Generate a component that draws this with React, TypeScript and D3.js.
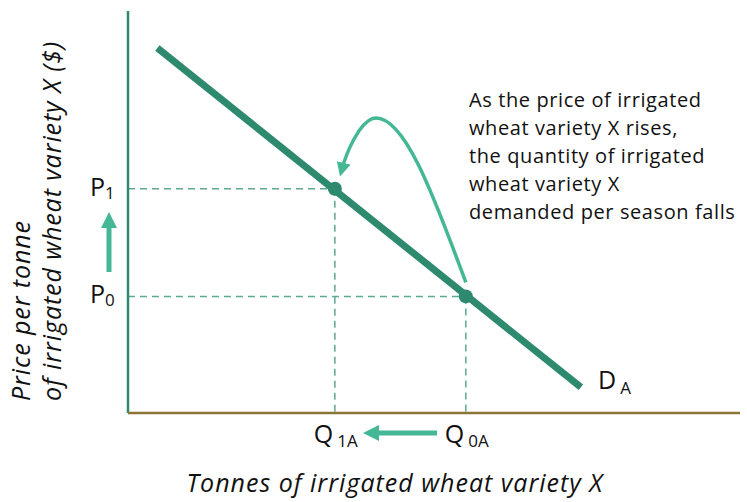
import React from 'react'
import * as d3 from 'd3'

// demand curve end points (quantity, price) in chart units 0..100
const demandLine = [
  { q: 4.8, p: 90.8 },
  { q: 74, p: 6.4 },
]

// points on the curve
const points = [
  { name: 'A1', q: 33.8, p: 55.8 },
  { name: 'A0', q: 55.2, p: 29 },
]

const priceLabels = [
  { main: 'P', sub: '1', p: 55.8 },
  { main: 'P', sub: '0', p: 29 },
]

const qtyLabels = [
  { main: 'Q', sub: '1A', q: 33.8 },
  { main: 'Q', sub: '0A', q: 55.2 },
]

const noteLines = [
  'As the price of irrigated',
  'wheat variety X rises,',
  'the quantity of irrigated',
  'wheat variety X',
  'demanded per season falls',
]

const yTitle = ['Price per tonne', 'of irrigated wheat variety X ($)']
const xTitle = 'Tonnes of irrigated wheat variety X'

const W = 747
const H = 502
const font = "'Open Sans', 'Noto Sans', sans-serif"

const dark = '#2e8a6f'
const light = '#44b795'
const dash = '#5ea893'

export default function App() {
  const x = d3.scaleLinear().domain([0, 100]).range([128, 740])
  const y = d3.scaleLinear().domain([0, 100]).range([413, 11])

  const line = d3
    .line<{ q: number; p: number }>()
    .x(d => x(d.q))
    .y(d => y(d.p))

  const [a1, a0] = points
  // curved arrow from A0 up and over to A1
  const sx = x(a0.q)
  const sy = y(a0.p)
  const curve = d3.path()
  curve.moveTo(sx, sy - 14)
  curve.bezierCurveTo(sx - 30, sy - 95, sx - 62, sy - 185, sx - 93, sy - 178)
  curve.bezierCurveTo(x(a1.q) + 25, y(a1.p) - 66, x(a1.q) + 12, y(a1.p) - 38, x(a1.q) + 7, y(a1.p) - 19)

  return (
    <svg width={W} height={H} style={{ position: 'absolute', left: 0, top: 0 }}>
      <defs>
        <marker id="head" viewBox="0 0 10 10" refX="5" refY="5" markerWidth="4" markerHeight="4" orient="auto-start-reverse">
          <path d="M0,0 L10,5 L0,10 z" fill={light} />
        </marker>
        <marker id="head2" viewBox="0 0 10 10" refX="5" refY="5" markerWidth="3.2" markerHeight="3.2" orient="auto-start-reverse">
          <path d="M0,0 L10,5 L0,10 z" fill={light} />
        </marker>
      </defs>

      {/* dashed guides */}
      {points.map(d => (
        <g key={d.name} stroke={dash} strokeWidth={1.5} strokeDasharray="7,5" fill="none">
          <line x1={x(0)} x2={x(d.q)} y1={y(d.p)} y2={y(d.p)} />
          <line x1={x(d.q)} x2={x(d.q)} y1={y(d.p)} y2={y(0)} />
        </g>
      ))}

      {/* axes */}
      <line x1={x(0)} x2={x(0)} y1={y(100)} y2={y(0)} stroke={dark} strokeWidth={2.5} />
      <line x1={x(0)} x2={x(100)} y1={y(0)} y2={y(0)} stroke="#8a7537" strokeWidth={2.5} />

      {/* demand */}
      <path d={line(demandLine) ?? ''} stroke={dark} strokeWidth={7} fill="none" />
      {points.map(d => (
        <circle key={d.name} cx={x(d.q)} cy={y(d.p)} r={7} fill={dark} />
      ))}

      <path d={curve.toString()} stroke={light} strokeWidth={3.5} fill="none" markerEnd="url(#head)" />

      {/* price labels */}
      {priceLabels.map(d => (
        <text key={d.sub} x={90} y={y(d.p) + 7} fontFamily={font} fontSize={25} fill="#111">
          {d.main}
          <tspan fontSize={17} dy={3}>{d.sub}</tspan>
        </text>
      ))}
      <line x1={109} x2={109} y1={272} y2={220} stroke={light} strokeWidth={5} markerEnd="url(#head2)" />

      {/* quantity labels */}
      {qtyLabels.map(d => (
        <text key={d.sub} x={x(d.q) - 21} y={443} fontFamily={font} fontSize={25} fill="#111">
          {d.main}
          <tspan fontSize={17} dx={4} dy={4}>{d.sub}</tspan>
        </text>
      ))}
      <line x1={437} x2={371} y1={433} y2={433} stroke={light} strokeWidth={5} markerEnd="url(#head2)" />

      <text x={598} y={389} fontFamily={font} fontSize={25} fill="#111">
        D<tspan fontSize={17} dx={4} dy={5}>A</tspan>
      </text>

      {/* note */}
      <text fontFamily={font} fontSize={20} letterSpacing={0.6} fill="#111">
        {noteLines.map((t, i) => (
          <tspan key={i} x={469} y={107 + i * 28}>{t}</tspan>
        ))}
      </text>

      {/* axis titles */}
      <text x={395} y={492} textAnchor="middle" fontFamily={font} fontSize={25} letterSpacing={1} fontStyle="italic" fill="#111">
        {xTitle}
      </text>
      {yTitle.map((t, i) => (
        <text key={i} transform={`translate(${30 + i * 31},401) rotate(-90)`} fontFamily={font} fontSize={25} letterSpacing={0.9} fontStyle="italic" fill="#111">
          {t}
        </text>
      ))}
    </svg>
  )
}
